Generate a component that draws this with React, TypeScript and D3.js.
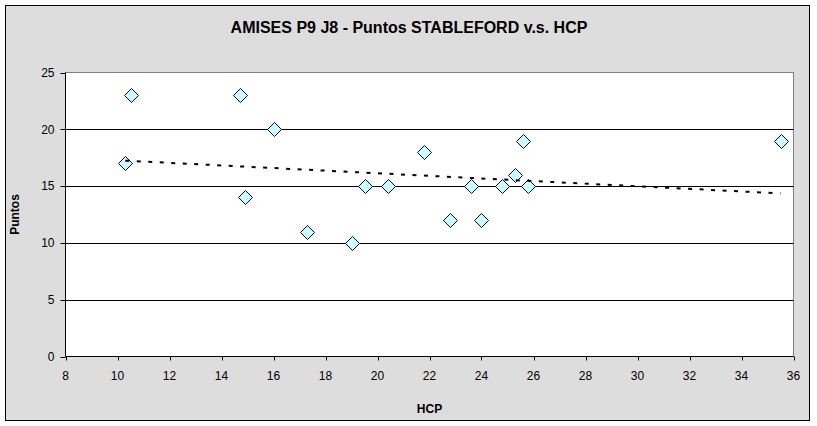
import React from "react";
import * as d3 from "d3";

const hcp = [10.3, 10.5, 14.7, 14.9, 16.0, 17.3, 19.0, 19.5, 20.4, 21.8, 22.8, 23.6, 24.0, 24.8, 25.3, 25.6, 25.8, 35.5];
const puntos = [17, 23, 23, 14, 20, 11, 10, 15, 15, 18, 12, 15, 12, 15, 16, 19, 15, 19];
const xTicks = [8, 10, 12, 14, 16, 18, 20, 22, 24, 26, 28, 30, 32, 34, 36];
const yTicks = [0, 5, 10, 15, 20, 25];
const title = "AMISES P9 J8 - Puntos STABLEFORD v.s. HCP";
const xTitle = "HCP";
const yTitle = "Puntos";

export default function App() {
  const W = 817, H = 426;
  const L = 65.5, R = 793.5, T = 72.5, B = 356.5;
  const x = d3.scaleLinear().domain([8, 36]).range([L, R]);
  const y = d3.scaleLinear().domain([0, 25]).range([B, T]);
  const pts = hcp.map((h, i) => ({ h, p: puntos[i] }));

  // linear regression trendline (as Excel)
  const mx = d3.mean(hcp)!;
  const my = d3.mean(puntos)!;
  let sxy = 0, sxx = 0;
  hcp.forEach((h, i) => { sxy += (h - mx) * (puntos[i] - my); sxx += (h - mx) * (h - mx); });
  const slope = sxy / sxx;
  const icpt = my - slope * mx;
  const [x0, x1] = d3.extent(hcp) as [number, number];
  const trend = d3.line<number>().x(d => x(d)).y(d => y(icpt + slope * d))([x0, x1]) || "";

  const font = "Arial, 'Liberation Sans', sans-serif";
  const s = 7;
  const diamond = (cx: number, cy: number) => `M${cx},${cy - s}L${cx + s},${cy}L${cx},${cy + s}L${cx - s},${cy}Z`;

  return (
    <svg width={W} height={H} style={{ position: "absolute", left: 0, top: 0 }} fontFamily={font}>
      <rect x={0} y={0} width={W} height={H} fill="#ffffff" />
      <rect x={5.5} y={5.5} width={804} height={415} fill="#dddddd" stroke="#000" strokeWidth={1} />
      <text x={409} y={33} textAnchor="middle" fontSize={16} fontWeight="bold" fill="#000">{title}</text>
      <rect x={L} y={T} width={R - L} height={B - T} fill="#fff" stroke="#808080" strokeWidth={1} />
      {yTicks.filter(t => t > 0 && t < 25).map(t => (
        <line key={"g" + t} x1={L} x2={R} y1={Math.round(y(t)) + 0.5} y2={Math.round(y(t)) + 0.5} stroke="#000" strokeWidth={1} />
      ))}
      <line x1={L} x2={L} y1={T} y2={B} stroke="#000" />
      <line x1={L} x2={R} y1={B} y2={B} stroke="#000" />
      {yTicks.map(t => (
        <g key={"y" + t}>
          <line x1={L - 5} x2={L} y1={Math.round(y(t)) + 0.5} y2={Math.round(y(t)) + 0.5} stroke="#000" />
          <text x={54.5} y={y(t)} dy="0.35em" textAnchor="end" fontSize={12} fill="#000">{t}</text>
        </g>
      ))}
      {xTicks.map(t => (
        <g key={"x" + t}>
          <line x1={Math.round(x(t)) + 0.5} x2={Math.round(x(t)) + 0.5} y1={B} y2={B + 4} stroke="#000" />
          <text x={x(t)} y={380} textAnchor="middle" fontSize={12} fill="#000">{t}</text>
        </g>
      ))}
      {pts.map((d, i) => (
        <path key={"p" + i} d={diamond(Math.round(x(d.h)) + 0.5, Math.round(y(d.p)) + 0.5)} fill="#ccffff" stroke="#000080" strokeWidth={1} />
      ))}
      <path d={trend} fill="none" stroke="#000" strokeWidth={2} strokeDasharray="4,7.5" />
      <text x={(L + R) / 2} y={413} textAnchor="middle" fontSize={12} fontWeight="bold" fill="#000">{xTitle}</text>
      <text transform={`translate(19,${(T + B) / 2}) rotate(-90)`} textAnchor="middle" fontSize={12} fontWeight="bold" fill="#000">{yTitle}</text>
    </svg>
  );
}
